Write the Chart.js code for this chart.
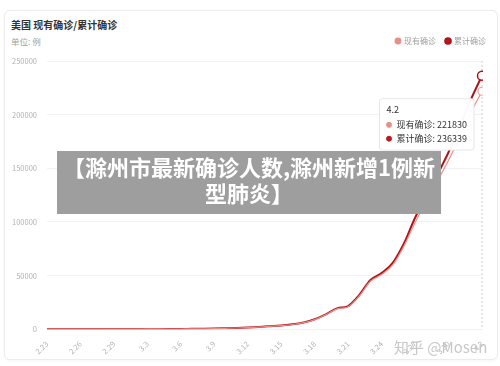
<!DOCTYPE html>
<html>
<head>
<meta charset="utf-8">
<script src="https://cdn.jsdelivr.net/npm/chart.js@4.4.1/dist/chart.umd.min.js"></script>
<style>
  html, body { margin:0; padding:0; background:#fff; }
  body { width:500px; height:366px; position:relative; overflow:hidden;
         font-family:"Noto Sans CJK SC","Noto Sans",sans-serif; }
  #card { position:absolute; left:4px; top:10px; width:492px; height:348px;
          border:1px solid #ececec; border-radius:6px; background:#fff;
          box-shadow:0 1px 3px rgba(0,0,0,0.04); }
  #title { position:absolute; left:11px; top:17px; font-size:10px; font-weight:bold; color:#333; }
  #unit { position:absolute; left:11px; top:35px; font-size:8.5px; color:#a0a0a0; }
  #wrap { position:absolute; left:4px; top:10px; width:494px; height:350px; }
  #banner { position:absolute; left:57px; top:151px; width:384px; height:63px; background:#9e9e9e;
            color:#fff; font-weight:bold; font-size:22px; line-height:26px; text-align:center;
            padding-top:2px; box-sizing:border-box; white-space:nowrap; }
  #mark { position:absolute; left:394px; top:336px; font-size:15px; color:#c8c8c8;
          font-family:"Noto Sans CJK SC","Noto Sans",sans-serif; }
</style>
</head>
<body>
<div id="card"></div>
<div id="title">美国 现有确诊/累计确诊</div>
<div id="unit">单位: 例</div>
<div id="wrap"><canvas id="c" width="494" height="350"></canvas></div>
<div id="banner">【滁州市最新确诊人数,滁州新增1例新<br>型肺炎】</div>
<div id="mark">知乎 @Mosen</div>
<script>
/* 数据 */
const dates = ["2.23","2.24","2.25","2.26","2.27","2.28","2.29","3.1","3.2","3.3","3.4","3.5","3.6","3.7","3.8","3.9","3.10","3.11","3.12","3.13","3.14","3.15","3.16","3.17","3.18","3.19","3.20","3.21","3.22","3.23","3.24","3.25","3.26","3.27","3.28","3.29","3.30","3.31","4.1","4.2"];
const current = [29,29,46,50,52,54,58,64,84,106,138,196,288,400,500,655,935,1230,1610,2140,2810,3530,4480,6180,9100,13650,19000,21100,31200,44800,51000,60000,77500,99500,119000,138000,157500,179000,202000,221830];
const total = [35,35,53,57,60,62,68,75,100,124,158,221,319,435,541,704,994,1301,1697,2247,2943,3680,4663,6400,9400,14000,19500,21700,32000,46000,52500,62000,80000,104000,124000,144000,165000,189000,214000,236339];
const yTicks = [0,50000,100000,150000,200000,250000];

const cjk = '"Noto Sans CJK SC","Noto Sans",sans-serif';

/* 悬停虚线 */
const hoverLine = {
  id:"hoverLine",
  beforeDatasetsDraw(chart){
    const act = chart.getActiveElements();
    if (!act.length) return;
    const x = act[0].element.x, a = chart.chartArea, ctx = chart.ctx;
    ctx.save();
    ctx.strokeStyle = "#cfcfcf";
    ctx.lineWidth = 1;
    ctx.setLineDash([2,2]);
    ctx.beginPath();
    ctx.moveTo(x, a.top);
    ctx.lineTo(x, a.bottom);
    ctx.stroke();
    ctx.restore();
  }
};

/* 图例下方留白 */
const legendGap = {
  id:"legendGap",
  beforeInit(chart){
    const fit = chart.legend.fit;
    chart.legend.fit = function(){ fit.bind(chart.legend)(); this.height += 6; };
  }
};

Chart.Tooltip.positioners.leftBelow = function(items){
  if (!items.length) return false;
  const el = items[items.length-1].element;
  return {x: el.x - 11, y: el.y + 23, xAlign:"right", yAlign:"top"};
};

const chart = new Chart(document.getElementById("c"), {
  type:"line",
  data:{
    labels:dates,
    datasets:[
      {label:"现有确诊", data:current, borderColor:"#e98e86", backgroundColor:"#e98e86",
       borderWidth:1.2, pointRadius:0, pointHoverRadius:4, pointHoverBorderWidth:1.2,
       pointHoverBackgroundColor:"#fff", pointHoverBorderColor:"#ec9f98", cubicInterpolationMode:"monotone"},
      {label:"累计确诊", data:total, borderColor:"#b0121a", backgroundColor:"#c0161e",
       borderWidth:2, pointRadius:0, pointHoverRadius:4.5, pointHoverBorderWidth:1.5,
       pointHoverBackgroundColor:"#fff", pointHoverBorderColor:"#a8141c", cubicInterpolationMode:"monotone"}
    ]
  },
  options:{
    responsive:false,
    animation:false,
    layout:{padding:{left:-2,right:2,top:17,bottom:2}},
    interaction:{mode:"index",intersect:false},
    plugins:{
      legend:{
        position:"top", align:"end",
        labels:{usePointStyle:true, pointStyle:"circle", boxWidth:4, boxHeight:4,
                color:"#a0a0a0", font:{family:cjk,size:8}, padding:10}
      },
      tooltip:{
        position:"leftBelow",
        backgroundColor:"rgba(255,255,255,0.97)",
        borderColor:"#e6e6e6", borderWidth:1,
        titleColor:"#333", bodyColor:"#333",
        titleFont:{family:cjk,size:9,weight:"normal"},
        bodyFont:{family:cjk,size:9},
        titleMarginBottom:4, bodySpacing:3,
        padding:{left:7,right:7,top:6,bottom:6},
        caretSize:0, caretPadding:0, cornerRadius:3,
        usePointStyle:true, boxWidth:5, boxHeight:5, boxPadding:3,
        callbacks:{
          label(ctx){ return ctx.dataset.label + ": " + ctx.raw; },
          labelColor(ctx){
            const c = ctx.dataset.backgroundColor;
            return {borderColor:c, backgroundColor:c};
          },
          labelPointStyle(){ return {pointStyle:"circle", rotation:0}; }
        }
      }
    },
    scales:{
      x:{
        grid:{display:false},
        border:{display:false},
        afterFit(s){ s.paddingLeft = 0; s.paddingRight = 16; },
        ticks:{
          autoSkip:false, maxRotation:45, minRotation:45, padding:2,
          color:"#b4b4b4", font:{family:cjk,size:7.5},
          callback(v,i){ return i % 3 === 0 ? dates[i] : ""; }
        }
      },
      y:{
        min:0, max:250000,
        afterBuildTicks(s){ s.ticks = yTicks.map(v=>({value:v})); },
        grid:{color:"#f1f1f1", drawTicks:false},
        border:{display:false},
        ticks:{color:"#b0b0b0", font:{family:cjk,size:7.5}, padding:10,
               callback(v){ return String(v); }}
      }
    }
  },
  plugins:[hoverLine, legendGap]
});

const act = [{datasetIndex:0,index:39},{datasetIndex:1,index:39}];
chart.setActiveElements(act);
const p = chart.getDatasetMeta(1).data[39];
chart.tooltip.setActiveElements(act, {x:p.x, y:p.y});
chart.update();
</script>
</body>
</html>
